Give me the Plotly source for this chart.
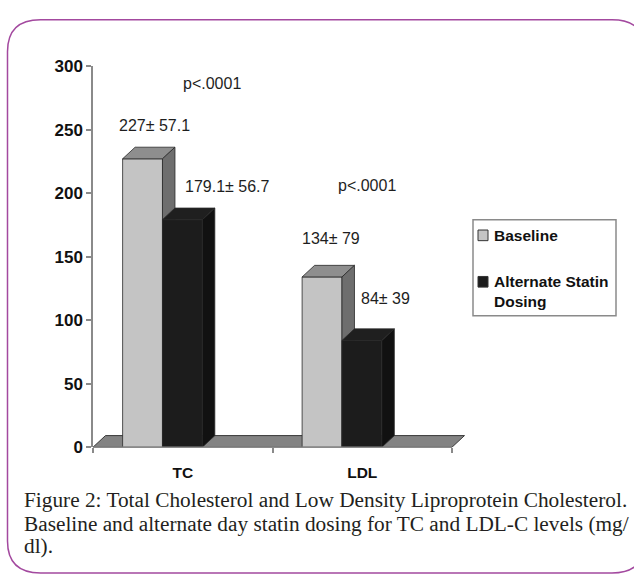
import plotly.graph_objects as go

# ---------------- data ----------------
categories = ["TC", "LDL"]
series_names = ["Baseline", "Alternate Statin<br>Dosing"]
baseline = [227, 134]
alternate = [179.1, 84]
baseline_labels = ["227± 57.1", "134± 79"]
alternate_labels = ["179.1± 56.7", "84± 39"]
p_labels = ["p<.0001", "p<.0001"]
y_ticks = [0, 50, 100, 150, 200, 250, 300]
caption_lines = [
    "Figure 2: Total Cholesterol and Low Density Liproprotein Cholesterol.",
    "Baseline and alternate day statin dosing for TC and LDL-C levels (mg/",
    "dl).",
]

# ---------------- layout / style constants ----------------
W, H = 634, 581
PX_L, PX_R_AX, PX_R_DOM = 93, 452, 480       # x axis pixel extents
PX_TOP, PX_BOT = 59, 453                     # y axis pixel extents
X_UNIT = (PX_R_AX - PX_L) / 2.0              # px per category unit
Y_UNIT = (PX_BOT - PX_TOP) / 300.0           # px per value unit
DX = 12.5 / X_UNIT                           # 3D depth in data units
DY = 12.0 / Y_UNIT
BAR_W = 0.222
GROUP_OFF = -0.335

front_cols = ["#c4c4c4", "#1c1c1c"]
top_cols = ["#8e8e8e", "#1f1f1f"]
side_cols = ["#6e6e6e", "#111111"]
edge = "#2a2a2a"
txt = "#1e1e1e"
SANS = "Liberation Sans, Arial, sans-serif"
SERIF = "Liberation Serif, Times New Roman, serif"

# label positions (category units, value units)
p_pos = [(0.163, 286), (1.026, 206)]
base_lbl_pos = [(-0.160, 253.5), (0.826, 164.5)]
alt_lbl_pos = [(0.247, 205.5), (1.127, 117)]
caption_y = [508, 532, 555]

fig = go.Figure()


def poly(xs, ys, color, line_col=edge, lw=0.8):
    fig.add_trace(go.Scatter(
        x=xs + [xs[0]], y=ys + [ys[0]], mode="lines", fill="toself",
        fillcolor=color, line=dict(color=line_col, width=lw),
        hoverinfo="skip", showlegend=False))


# floor
fx0, fx1 = -0.5, 1.5
poly([fx0, fx1, fx1 + DX, fx0 + DX], [0, 0, DY, DY], "#838383", "#3a3a3a", 1)

# bars (front, top, side faces), drawn back-to-front per category
series = [baseline, alternate]
for i, cat in enumerate(categories):
    for j, vals in enumerate(series):
        v = vals[i]
        x0 = i + GROUP_OFF + j * BAR_W
        x1 = x0 + BAR_W
        poly([x0, x1, x1, x0], [0, 0, v, v], front_cols[j])
        poly([x0, x1, x1 + DX, x0 + DX], [v, v, v + DY, v + DY], top_cols[j])
        poly([x1, x1 + DX, x1 + DX, x1], [0, DY, v + DY, v], side_cols[j])

# value / p labels
ann = []
for i in range(len(categories)):
    ann.append(dict(x=p_pos[i][0], y=p_pos[i][1], text=p_labels[i]))
    ann.append(dict(x=base_lbl_pos[i][0], y=base_lbl_pos[i][1], text=baseline_labels[i]))
    ann.append(dict(x=alt_lbl_pos[i][0], y=alt_lbl_pos[i][1], text=alternate_labels[i]))
annotations = [dict(a, xref="x", yref="y", showarrow=False,
                    font=dict(family=SANS, size=16, color=txt)) for a in ann]


def px_x(p):
    return p / W


def px_y(p):
    return 1 - p / H


# manual legend
leg_items = [(234, front_cols[0]), (282, front_cols[1])]
shapes = [dict(type="rect", xref="paper", yref="paper",
               x0=px_x(473), x1=px_x(616), y0=px_y(317), y1=px_y(218),
               line=dict(color="#8a8a8a", width=1.5), fillcolor="white")]
for k, (cy, col) in enumerate(leg_items):
    shapes.append(dict(type="rect", xref="paper", yref="paper",
                       x0=px_x(478), x1=px_x(488), y0=px_y(cy + 5.5), y1=px_y(cy - 5.5),
                       line=dict(color="#333", width=1), fillcolor=col))
    annotations.append(dict(xref="paper", yref="paper", x=px_x(492), y=px_y(cy - 11),
                            xanchor="left", yanchor="top", align="left",
                            text=series_names[k], showarrow=False,
                            font=dict(family=SANS, size=15.5, color="#111", weight="bold")))

# x axis line drawn along the value zero across the category span
shapes.append(dict(type="line", xref="x", yref="y domain", x0=-0.5, x1=1.5, y0=0, y1=0,
                   line=dict(color="#8a8a8a", width=1.5)))

# rounded purple frame
L, T, R, B, r = 7.5, 11, 645, 583, 33
path = (f"M {px_x(L)},{px_y(T + r)} "
        f"Q {px_x(L)},{px_y(T)} {px_x(L + r)},{px_y(T)} "
        f"L {px_x(R - r)},{px_y(T)} "
        f"Q {px_x(R)},{px_y(T)} {px_x(R)},{px_y(T + r)} "
        f"L {px_x(R)},{px_y(B - r)} "
        f"Q {px_x(R)},{px_y(B)} {px_x(R - r)},{px_y(B)} "
        f"L {px_x(L + r)},{px_y(B)} "
        f"Q {px_x(L)},{px_y(B)} {px_x(L)},{px_y(B - r)} Z")
shapes.append(dict(type="path", xref="paper", yref="paper", path=path,
                   line=dict(color="#a3499f", width=1.5)))

# caption
for line, cy in zip(caption_lines, caption_y):
    annotations.append(dict(xref="paper", yref="paper", x=px_x(22), y=px_y(cy),
                            xanchor="left", yanchor="middle", align="left", showarrow=False,
                            text=line, font=dict(family=SERIF, size=21.3, color="#231f20")))

fig.update_layout(
    width=W, height=H,
    margin=dict(l=0, r=0, t=0, b=0),
    paper_bgcolor="white", plot_bgcolor="rgba(0,0,0,0)",
    showlegend=False,
    xaxis=dict(domain=[px_x(PX_L), px_x(PX_R_DOM)],
               range=[-0.5, -0.5 + (PX_R_DOM - PX_L) / X_UNIT],
               tickvals=list(range(len(categories))), ticktext=categories,
               ticks="outside", ticklen=11, tickcolor="rgba(0,0,0,0)",
               minor=dict(tickvals=[-0.5, 0.5, 1.5], ticks="outside", ticklen=5,
                          tickcolor="#8a8a8a", tickwidth=1.5),
               showline=False, showgrid=False, zeroline=False, fixedrange=True,
               tickfont=dict(family=SANS, size=15.5, color="#111", weight="bold")),
    yaxis=dict(domain=[px_y(PX_BOT), px_y(PX_TOP)], range=[0, 300],
               tickvals=y_ticks, ticks="outside", ticklen=5, tickcolor="#8a8a8a",
               tickwidth=1.5, showline=True, linecolor="#8a8a8a", linewidth=1.5,
               showgrid=False, zeroline=False, fixedrange=True,
               tickfont=dict(family=SANS, size=17, color="#111", weight="bold")),
    shapes=shapes,
    annotations=annotations,
)

fig.write_html("out.html", config={"displayModeBar": False},
               post_script="document.body.style.margin='0px';"
                           "document.body.style.overflow='hidden';")
